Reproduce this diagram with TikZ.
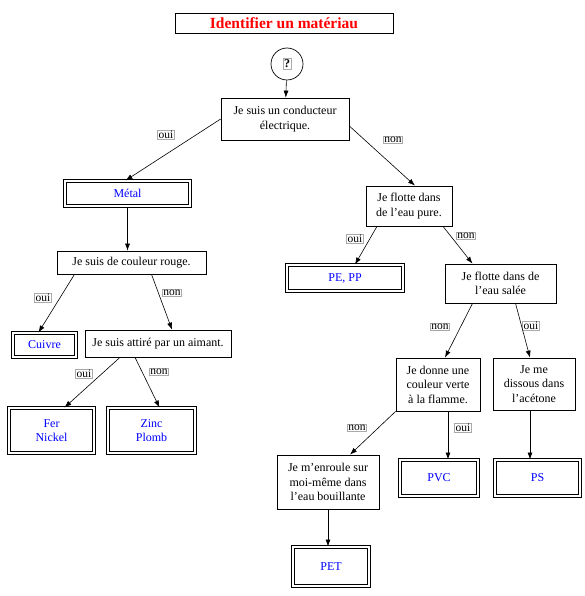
\documentclass[tikz,border=0pt]{standalone}
\usepackage{fontspec}
\setmainfont{Liberation Serif}
\usetikzlibrary{arrows.meta}
\definecolor{labgray}{RGB}{170,170,170}
\begin{document}
\begin{tikzpicture}[x=1pt,y=-1pt,>={Latex[length=7pt,width=5pt]}]
    \tikzstyle{every node}=[font=\fontsize{12}{14.5}\selectfont,align=center,inner sep=2pt]
    \tikzstyle{question}=[draw,line width=0.7pt]
    \tikzstyle{result}=[draw,double,line width=1pt,double distance=2.2pt,text=blue]
    \tikzstyle{answer}=[draw=labgray,line width=0.9pt,inner sep=1pt,font=\fontsize{11.5}{12}\selectfont]
    \useasboundingbox (0,0) rectangle (585,596);

    \node (title) [draw,line width=0.8pt,minimum width=218pt,minimum height=20pt,text=red,font=\fontsize{15.5}{17}\selectfont\bfseries] at (284,23) {Identifier un matériau};
    \node (start) [draw,circle,line width=0.7pt,minimum size=32pt] at (287,64) {};
    \node (qmark) [answer,font=\fontsize{12}{12}\selectfont\bfseries] at (start) {?};

    \node (cond) [question,minimum width=128pt,minimum height=42pt] at (285,119) {Je suis un conducteur\\électrique.};
    \node (metal) [result,minimum width=125pt,minimum height=25pt] at (127.5,193.5) {Métal};
    \node (rouge) [question,minimum width=149pt,minimum height=23pt] at (131.5,262.5) {Je suis de couleur rouge.};
    \node (cuivre) [result,minimum width=63pt,minimum height=24pt] at (44.5,345) {Cuivre};
    \node (aimant) [question,minimum width=146pt,minimum height=27pt] at (158,343.5) {Je suis attiré par un aimant.};
    \node (fer) [result,minimum width=85pt,minimum height=45pt] at (51.5,430.5) {Fer\\Nickel};
    \node (zinc) [result,minimum width=87pt,minimum height=45pt] at (151.5,430.5) {Zinc\\Plomb};

    \node (pure) [question,minimum width=86pt,minimum height=40pt] at (409,206) {Je flotte dans\\de l’eau pure.};
    \node (pepp) [result,minimum width=116pt,minimum height=26pt] at (345,278) {PE, PP};
    \node (salee) [question,minimum width=111pt,minimum height=39pt] at (500.5,283.5) {Je flotte dans de\\l’eau salée};
    \node (flamme) [question,minimum width=84pt,minimum height=53pt] at (438,384.5) {Je donne une\\couleur verte\\à la flamme.};
    \node (acetone) [question,minimum width=82pt,minimum height=52pt] at (534,384) {Je me\\dissous dans\\l’acétone};
    \node (enroule) [question,minimum width=102pt,minimum height=54pt] at (328,482) {Je m’enroule sur\\moi-même dans\\l’eau bouillante};
    \node (pvc) [result,minimum width=78pt,minimum height=36pt] at (439,478) {PVC};
    \node (ps) [result,minimum width=85pt,minimum height=36pt] at (537.5,478) {PS};
    \node (pet) [result,minimum width=76pt,minimum height=39pt] at (331,566.5) {PET};

    % oui / non
    \node (l1) [answer] at (166,135) {oui};
    \node (l2) [answer] at (393,140) {non};
    \node (l3) [answer] at (43,298) {oui};
    \node (l4) [answer] at (172,293) {non};
    \node (l5) [answer] at (84,374) {oui};
    \node (l6) [answer] at (159,372) {non};
    \node (l7) [answer] at (355,239) {oui};
    \node (l8) [answer] at (466,236) {non};
    \node (l9) [answer] at (440,327) {non};
    \node (l10) [answer] at (531,326) {oui};
    \node (l11) [answer] at (357,428) {non};
    \node (l12) [answer] at (463,428) {oui};

    \draw[->,line width=0.6pt] (start) to (cond);
    \draw[->,line width=0.6pt] (cond.west) to ([xshift=-2pt]metal.north);
    \draw[->,line width=0.6pt] ([yshift=-7pt]cond.east) to ([xshift=6pt]pure.north);
    \draw[->,line width=0.6pt] (metal.south) to (metal.south |- rouge.north);
    \draw[->,line width=0.6pt] ([xshift=-57pt]rouge.south) to ([xshift=-6pt]cuivre.north);
    \draw[->,line width=0.6pt] ([xshift=20pt]rouge.south) to ([xshift=14pt]aimant.north);
    \draw[->,line width=0.6pt] ([xshift=-38pt]aimant.south) to ([xshift=13pt]fer.north);
    \draw[->,line width=0.6pt] ([xshift=-23pt]aimant.south) to ([xshift=8pt]zinc.north);
    \draw[->,line width=0.6pt] ([xshift=-32pt]pure.south) to ([xshift=10pt]pepp.north);
    \draw[->,line width=0.6pt] ([xshift=34pt]pure.south) to ([xshift=-28pt]salee.north);
    \draw[->,line width=0.6pt] ([xshift=-28pt]salee.south) to ([xshift=7pt]flamme.north);
    \draw[->,line width=0.6pt] ([xshift=15pt]salee.south) to ([xshift=-4pt]acetone.north);
    \draw[->,line width=0.6pt] (flamme.south west) to ([xshift=22pt]enroule.north);
    \draw[->,line width=0.6pt] ([xshift=10pt]flamme.south) to ([xshift=9pt]pvc.north);
    \draw[->,line width=0.6pt] ([xshift=-4pt]acetone.south) to ([xshift=-7.5pt]ps.north);
    \draw[->,line width=0.6pt] (enroule.south) to ([xshift=-3pt]pet.north);
\end{tikzpicture}
\end{document}
